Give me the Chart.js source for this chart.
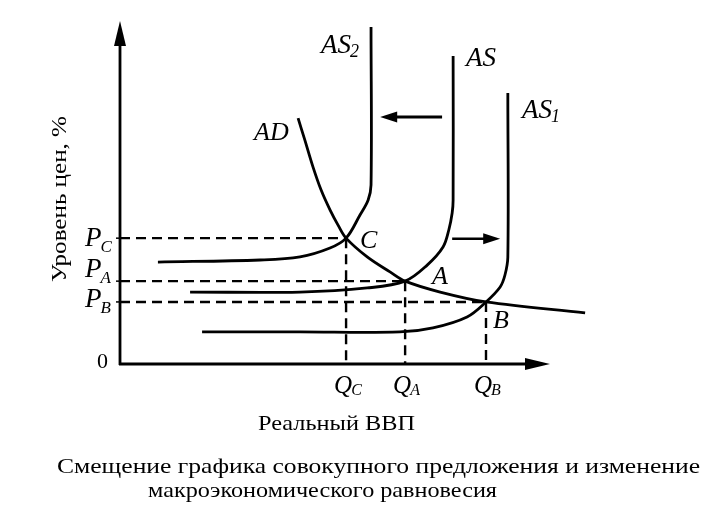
<!DOCTYPE html>
<html><head><meta charset="utf-8">
<script src="https://cdn.jsdelivr.net/npm/chart.js@4"></script>
<style>html,body{margin:0;padding:0;background:#fff}#wrap{width:705px;height:509px}</style>
</head><body><div id="wrap"><canvas id="c" width="705" height="509"></canvas></div>
<script>
// Equilibrium points (real GDP Q, price level P) in arbitrary units 0..100
const eqNames = ['C', 'A', 'B'];
const eqQ = [47.1, 59.4, 76.25];
const eqP = [36.9, 24.3, 18.2];

// Aggregate demand curve
const adX = [37.1, 38.5, 40.2, 41.9, 43.75, 45.4, 47.1, 51.5, 56.25, 59.4, 66.7, 76.25, 96.9];
const adY = [72.1, 65.7, 57.8, 51.0, 45.2, 40.8, 36.9, 31.4, 27.0, 24.3, 21.1, 18.2, 15.0];

// Aggregate supply curves
const asX  = [69.4, 69.4, 69.2, 68.5, 67.3, 64.0, 59.4, 51.5, 37.5, 14.6];
const asY  = [90.3, 48.1, 44.3, 39.3, 34.3, 29.0, 24.3, 22.3, 21.1, 21.1];
const as1X = [80.8, 80.8, 80.2, 79.2, 76.25, 72.3, 65.2, 58.3, 37.5, 17.1];
const as1Y = [79.5, 31.4, 26.1, 22.6, 18.2, 13.8, 10.6, 9.4, 9.4, 9.4];
const as2X = [52.3, 52.3, 51.7, 50.0, 47.1, 43.75, 37.5, 29.2, 7.9];
const as2Y = [98.8, 52.5, 48.1, 43.7, 36.9, 34.0, 31.4, 30.5, 29.9];

// Shift arrows [fromX, toX] at level Y
const shiftLeftX = [67.1, 54.2];  const shiftLeftY = 72.4;
const shiftRightX = [69.2, 79.2]; const shiftRightY = 36.7;

const pts = (xs, ys) => xs.map((x, i) => ({x, y: ys[i]}));
const curve = (xs, ys) => ({data: pts(xs, ys), showLine: true, borderColor: '#000', borderWidth: 2.8, pointRadius: 0, tension: 0.35, fill: false});
const dash = (data) => ({data, showLine: true, borderColor: '#000', borderWidth: 2.4, borderDash: [10, 6], pointRadius: 0, tension: 0, fill: false});

const datasets = [];
eqQ.forEach((q, i) => {
  datasets.push(dash([{x: 0, y: eqP[i]}, {x: q, y: eqP[i]}]));
  datasets.push(dash([{x: q, y: eqP[i]}, {x: q, y: 0}]));
});
datasets.push(curve(adX, adY));
datasets.push(curve(asX, asY));
datasets.push(curve(as1X, as1Y));
datasets.push(curve(as2X, as2Y));
datasets.push({data: [{x: shiftLeftX[0], y: shiftLeftY}, {x: shiftLeftX[1] + 2, y: shiftLeftY}], showLine: true, borderColor: '#000', borderWidth: 3, pointRadius: 0});
datasets.push({data: [{x: shiftRightX[0], y: shiftRightY}, {x: shiftRightX[1] - 2, y: shiftRightY}], showLine: true, borderColor: '#000', borderWidth: 2.5, pointRadius: 0});

function tri(ctx, tipX, tipY, dir, len, half) {
  ctx.beginPath();
  if (dir === 'up') { ctx.moveTo(tipX, tipY); ctx.lineTo(tipX - half, tipY + len); ctx.lineTo(tipX + half, tipY + len); }
  if (dir === 'right') { ctx.moveTo(tipX, tipY); ctx.lineTo(tipX - len, tipY - half); ctx.lineTo(tipX - len, tipY + half); }
  if (dir === 'left') { ctx.moveTo(tipX, tipY); ctx.lineTo(tipX + len, tipY - half); ctx.lineTo(tipX + len, tipY + half); }
  ctx.closePath(); ctx.fill();
}
function sub(ctx, main, s, x, y, size, subSize, drop) {
  ctx.font = 'italic ' + size + 'px "Liberation Serif"';
  ctx.fillText(main, x, y);
  const w = ctx.measureText(main).width;
  ctx.font = 'italic ' + subSize + 'px "Liberation Serif"';
  ctx.fillText(s, x + w - 1, y + drop);
}
function fitText(ctx, text, x, y, width, font) {
  ctx.font = font;
  const m = ctx.measureText(text).width;
  ctx.save(); ctx.translate(x, y); ctx.scale(width / m, 1); ctx.fillText(text, 0, 0); ctx.restore();
}

const deco = {
  id: 'deco',
  afterDatasetsDraw(chart) {
    const ctx = chart.ctx, xs = chart.scales.x, ys = chart.scales.y;
    const X = v => xs.getPixelForValue(v), Y = v => ys.getPixelForValue(v);
    ctx.save();
    ctx.fillStyle = '#000'; ctx.strokeStyle = '#000'; ctx.lineWidth = 2.8;
    const ox = X(0), oy = Y(0);
    // axes
    ctx.beginPath(); ctx.moveTo(ox, oy + 1); ctx.lineTo(ox, 40); ctx.stroke();
    tri(ctx, ox, 21, 'up', 25, 6);
    ctx.beginPath(); ctx.moveTo(ox - 1, oy); ctx.lineTo(530, oy); ctx.stroke();
    tri(ctx, 550, oy, 'right', 25, 6);
    // small y ticks
    ctx.lineWidth = 1.5;
    eqP.forEach(p => { ctx.beginPath(); ctx.moveTo(ox - 4, Y(p)); ctx.lineTo(ox, Y(p)); ctx.stroke(); });
    // shift arrow heads
    tri(ctx, X(shiftLeftX[1]), Y(shiftLeftY), 'left', 17, 5.5);
    tri(ctx, X(shiftRightX[1]), Y(shiftRightY), 'right', 17, 5.5);
    ctx.textBaseline = 'alphabetic'; ctx.textAlign = 'left';
    // curve labels
    sub(ctx, 'AS', '2', 321, 53, 27, 18, 4);
    ctx.font = 'italic 27px "Liberation Serif"';
    ctx.fillText('AS', 466, 66);
    sub(ctx, 'AS', '1', 522, 118, 27, 18, 4);
    ctx.font = 'italic 26px "Liberation Serif"';
    ctx.fillText('AD', 254, 140);
    // equilibrium labels
    const eqOff = [[14, 10], [27, 3], [7, 26]];
    ctx.font = 'italic 26px "Liberation Serif"';
    eqNames.forEach((n, i) => ctx.fillText(n, X(eqQ[i]) + eqOff[i][0], Y(eqP[i]) + eqOff[i][1]));
    // price labels
    const pOff = [8, -4, 5];
    eqNames.forEach((n, i) => sub(ctx, 'P', n, 85, Y(eqP[i]) + pOff[i], 27, 17, 6));
    // quantity labels
    eqNames.forEach((n, i) => sub(ctx, 'Q', n, X(eqQ[i]) - 12, 393, 25, 16, 2));
    ctx.font = '22px "Liberation Serif"';
    ctx.fillText('0', 97, 368);
    // axis titles
    fitText(ctx, 'Реальный ВВП', 258, 430, 157, '21px "Liberation Serif"');
    ctx.save(); ctx.translate(66, 282); ctx.rotate(-Math.PI / 2);
    fitText(ctx, 'Уровень цен, %', 0, 0, 166, '21px "Liberation Serif"');
    ctx.restore();
    // caption
    fitText(ctx, 'Смещение графика совокупного предложения и изменение', 57, 473, 643, '21px "Liberation Serif"');
    fitText(ctx, 'макроэкономического равновесия', 148, 497, 349, '21px "Liberation Serif"');
    ctx.restore();
  }
};

new Chart(document.getElementById('c'), {
  type: 'scatter',
  data: {datasets},
  options: {
    responsive: false, animation: false,
    layout: {padding: {left: 120, right: 105, top: 23, bottom: 145}},
    plugins: {legend: {display: false}, tooltip: {enabled: false}},
    scales: {
      x: {type: 'linear', min: 0, max: 100, display: false},
      y: {type: 'linear', min: 0, max: 100, display: false}
    }
  },
  plugins: [deco]
});
</script></body></html>
